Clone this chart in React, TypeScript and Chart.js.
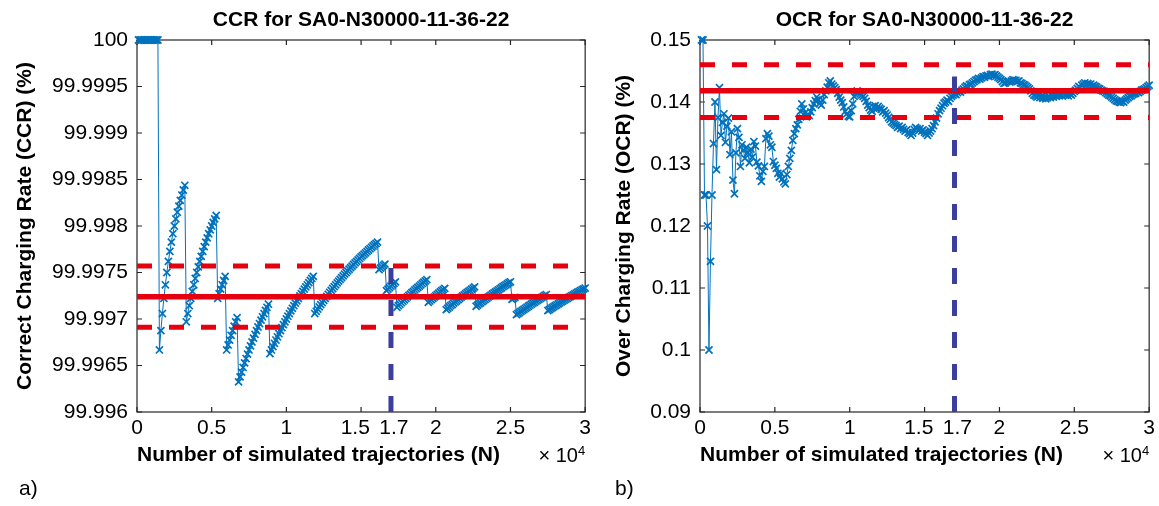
import React, { useEffect, useRef } from 'react';
import { Chart, registerables } from 'chart.js';

Chart.register(...registerables);

// Number of simulated trajectories (sampling points)
const N_VALUES = [
  100, 200, 300, 400, 500, 600, 700, 800, 900, 1000,
  1100, 1200, 1300, 1400, 1500, 1600, 1700, 1800, 1900, 2000,
  2100, 2200, 2300, 2400, 2500, 2600, 2700, 2800, 2900, 3000,
  3100, 3200, 3300, 3400, 3500, 3600, 3700, 3800, 3900, 4000,
  4100, 4200, 4300, 4400, 4500, 4600, 4700, 4800, 4900, 5000,
  5100, 5200, 5300, 5400, 5500, 5600, 5700, 5800, 5900, 6000,
  6100, 6200, 6300, 6400, 6500, 6600, 6700, 6800, 6900, 7000,
  7100, 7200, 7300, 7400, 7500, 7600, 7700, 7800, 7900, 8000,
  8100, 8200, 8300, 8400, 8500, 8600, 8700, 8800, 8900, 9000,
  9100, 9200, 9300, 9400, 9500, 9600, 9700, 9800, 9900, 10000,
  10100, 10200, 10300, 10400, 10500, 10600, 10700, 10800, 10900, 11000,
  11100, 11200, 11300, 11400, 11500, 11600, 11700, 11800, 11900, 12000,
  12100, 12200, 12300, 12400, 12500, 12600, 12700, 12800, 12900, 13000,
  13100, 13200, 13300, 13400, 13500, 13600, 13700, 13800, 13900, 14000,
  14100, 14200, 14300, 14400, 14500, 14600, 14700, 14800, 14900, 15000,
  15100, 15200, 15300, 15400, 15500, 15600, 15700, 15800, 15900, 16000,
  16100, 16200, 16300, 16400, 16500, 16600, 16700, 16800, 16900, 17000,
  17100, 17200, 17300, 17400, 17500, 17600, 17700, 17800, 17900, 18000,
  18100, 18200, 18300, 18400, 18500, 18600, 18700, 18800, 18900, 19000,
  19100, 19200, 19300, 19400, 19500, 19600, 19700, 19800, 19900, 20000,
  20100, 20200, 20300, 20400, 20500, 20600, 20700, 20800, 20900, 21000,
  21100, 21200, 21300, 21400, 21500, 21600, 21700, 21800, 21900, 22000,
  22100, 22200, 22300, 22400, 22500, 22600, 22700, 22800, 22900, 23000,
  23100, 23200, 23300, 23400, 23500, 23600, 23700, 23800, 23900, 24000,
  24100, 24200, 24300, 24400, 24500, 24600, 24700, 24800, 24900, 25000,
  25100, 25200, 25300, 25400, 25500, 25600, 25700, 25800, 25900, 26000,
  26100, 26200, 26300, 26400, 26500, 26600, 26700, 26800, 26900, 27000,
  27100, 27200, 27300, 27400, 27500, 27600, 27700, 27800, 27900, 28000,
  28100, 28200, 28300, 28400, 28500, 28600, 28700, 28800, 28900, 29000,
  29100, 29200, 29300, 29400, 29500, 29600, 29700, 29800, 29900, 30000,
];

// Correct Charging Rate (%)
const CCR_VALUES = [
  100, 100, 100, 100, 100, 100, 100, 100, 100, 100,
  100, 100, 100, 100, 99.996667, 99.996875, 99.997059, 99.997222, 99.997368, 99.9975,
  99.997619, 99.997727, 99.997826, 99.997917, 99.998, 99.998077, 99.998148, 99.998214, 99.998276, 99.998333,
  99.998387, 99.998438, 99.99697, 99.997059, 99.997143, 99.997222, 99.997297, 99.997368, 99.997436, 99.9975,
  99.997561, 99.997619, 99.997674, 99.997727, 99.997778, 99.997826, 99.997872, 99.997917, 99.997959, 99.998,
  99.998039, 99.998077, 99.998113, 99.997222, 99.997273, 99.997321, 99.997368, 99.997414, 99.997458, 99.996667,
  99.996721, 99.996774, 99.996825, 99.996875, 99.996923, 99.99697, 99.997015, 99.996324, 99.996377, 99.996429,
  99.996479, 99.996528, 99.996575, 99.996622, 99.996667, 99.996711, 99.996753, 99.996795, 99.996835, 99.996875,
  99.996914, 99.996951, 99.996988, 99.997024, 99.997059, 99.997093, 99.997126, 99.997159, 99.996629, 99.996667,
  99.996703, 99.996739, 99.996774, 99.996809, 99.996842, 99.996875, 99.996907, 99.996939, 99.99697, 99.997,
  99.99703, 99.997059, 99.997087, 99.997115, 99.997143, 99.99717, 99.997196, 99.997222, 99.997248, 99.997273,
  99.997297, 99.997321, 99.997345, 99.997368, 99.997391, 99.997414, 99.997436, 99.997458, 99.997059, 99.997083,
  99.997107, 99.997131, 99.997154, 99.997177, 99.9972, 99.997222, 99.997244, 99.997266, 99.997287, 99.997308,
  99.997328, 99.997348, 99.997368, 99.997388, 99.997407, 99.997426, 99.997445, 99.997464, 99.997482, 99.9975,
  99.997518, 99.997535, 99.997552, 99.997569, 99.997586, 99.997603, 99.997619, 99.997635, 99.997651, 99.997667,
  99.997682, 99.997697, 99.997712, 99.997727, 99.997742, 99.997756, 99.997771, 99.997785, 99.997799, 99.997812,
  99.997826, 99.997531, 99.997546, 99.997561, 99.997576, 99.99759, 99.997305, 99.997321, 99.997337, 99.997353,
  99.997368, 99.997384, 99.997399, 99.997126, 99.997143, 99.997159, 99.997175, 99.997191, 99.997207, 99.997222,
  99.997238, 99.997253, 99.997268, 99.997283, 99.997297, 99.997312, 99.997326, 99.99734, 99.997354, 99.997368,
  99.997382, 99.997396, 99.997409, 99.997423, 99.997179, 99.997194, 99.997208, 99.997222, 99.997236, 99.99725,
  99.997264, 99.997277, 99.997291, 99.997304, 99.997317, 99.99733, 99.997101, 99.997115, 99.997129, 99.997143,
  99.997156, 99.99717, 99.997183, 99.997196, 99.997209, 99.997222, 99.997235, 99.997248, 99.99726, 99.997273,
  99.997285, 99.997297, 99.997309, 99.997321, 99.997333, 99.997345, 99.997137, 99.997149, 99.997162, 99.997174,
  99.997186, 99.997198, 99.99721, 99.997222, 99.997234, 99.997246, 99.997257, 99.997269, 99.99728, 99.997292,
  99.997303, 99.997314, 99.997325, 99.997336, 99.997347, 99.997358, 99.997368, 99.997379, 99.99739, 99.9974,
  99.997211, 99.997222, 99.997233, 99.997047, 99.997059, 99.99707, 99.997082, 99.997093, 99.997104, 99.997115,
  99.997126, 99.997137, 99.997148, 99.997159, 99.99717, 99.99718, 99.997191, 99.997201, 99.997212, 99.997222,
  99.997232, 99.997243, 99.997253, 99.997263, 99.997091, 99.997101, 99.997112, 99.997122, 99.997133, 99.997143,
  99.997153, 99.997163, 99.997173, 99.997183, 99.997193, 99.997203, 99.997213, 99.997222, 99.997232, 99.997241,
  99.997251, 99.99726, 99.99727, 99.997279, 99.997288, 99.997297, 99.997306, 99.997315, 99.997324, 99.997333,
];

// Over Charging Rate (%)
const OCR_VALUES = [
  0.15, 0.15, 0.125, 0.125, 0.12, 0.1, 0.1143, 0.125, 0.1333, 0.14,
  0.1291, 0.1375, 0.1423, 0.1346, 0.1367, 0.1381, 0.1335, 0.1361, 0.1374, 0.1315,
  0.1352, 0.1274, 0.1252, 0.1318, 0.1357, 0.1343, 0.1296, 0.1331, 0.1322, 0.1309,
  0.1327, 0.1318, 0.1302, 0.1324, 0.1311, 0.1336, 0.1329, 0.1303, 0.1297, 0.1281,
  0.1272, 0.1288, 0.1296, 0.1341, 0.1349, 0.1345, 0.1331, 0.1327, 0.1304, 0.1298,
  0.1293, 0.1285, 0.1279, 0.1285, 0.1276, 0.1271, 0.1268, 0.1283, 0.1296, 0.1309,
  0.1322, 0.1338, 0.1349, 0.1357, 0.1363, 0.1372, 0.1385, 0.1397, 0.1389, 0.1382,
  0.1376, 0.138, 0.1378, 0.1384, 0.1391, 0.1397, 0.1402, 0.1408, 0.1404, 0.1398,
  0.1395, 0.1403, 0.1412, 0.1418, 0.1424, 0.1431, 0.1434, 0.1429, 0.1426, 0.1423,
  0.142, 0.1414, 0.1408, 0.1403, 0.1399, 0.1392, 0.1385, 0.1381, 0.1377, 0.1376,
  0.1386, 0.1397, 0.1409, 0.1416, 0.1418, 0.1415, 0.1413, 0.1411, 0.1409, 0.1406,
  0.1401, 0.1395, 0.1391, 0.1387, 0.1385, 0.1392, 0.1394, 0.1389, 0.1393, 0.139,
  0.1388, 0.1384, 0.1386, 0.1382, 0.1379, 0.1375, 0.1372, 0.1368, 0.1366, 0.1364,
  0.1362, 0.1359, 0.1361, 0.1357, 0.1359, 0.1356, 0.1353, 0.1355, 0.1351, 0.1349,
  0.1346, 0.135, 0.1356, 0.1359, 0.1357, 0.1354, 0.1357, 0.1353, 0.1355, 0.1351,
  0.1349, 0.1346, 0.135, 0.1353, 0.1357, 0.1362, 0.1368, 0.1374, 0.1381, 0.1386,
  0.139, 0.1394, 0.1398, 0.14, 0.1403, 0.1401, 0.1406, 0.1409, 0.1411, 0.1413,
  0.1412, 0.1415, 0.1417, 0.1416, 0.1419, 0.1421, 0.1424, 0.1426, 0.1425, 0.1428,
  0.1429, 0.1431, 0.1433, 0.1435, 0.1436, 0.1438, 0.1437, 0.1439, 0.1441, 0.144,
  0.1442, 0.1443, 0.1441, 0.1444, 0.1445, 0.1443, 0.1444, 0.1442, 0.144, 0.1438,
  0.1436, 0.1433, 0.143, 0.1431, 0.1433, 0.1434, 0.1432, 0.1434, 0.1436, 0.1435,
  0.1435, 0.1433, 0.1434, 0.1431, 0.143, 0.1428, 0.1427, 0.1425, 0.1423, 0.1421,
  0.1418, 0.1414, 0.1411, 0.141, 0.1408, 0.141, 0.1407, 0.1409, 0.1406, 0.1408,
  0.1405, 0.1407, 0.1409, 0.1407, 0.141, 0.1408, 0.1411, 0.1409, 0.1412, 0.141,
  0.1412, 0.141, 0.1413, 0.1411, 0.1412, 0.141, 0.1413, 0.1411, 0.1414, 0.1417,
  0.1419, 0.1422, 0.1425, 0.1423, 0.1427, 0.1429, 0.1431, 0.1428, 0.143, 0.1428,
  0.1429, 0.1426, 0.1427, 0.1425, 0.1424, 0.1422, 0.1421, 0.1419, 0.1418, 0.1417,
  0.1415, 0.1413, 0.1411, 0.141, 0.1408, 0.1406, 0.1404, 0.1402, 0.1401, 0.14,
  0.1399, 0.1401, 0.14, 0.1403, 0.1405, 0.1407, 0.1409, 0.141, 0.1412, 0.1413,
  0.1414, 0.1416, 0.1415, 0.1417, 0.1419, 0.142, 0.1421, 0.1423, 0.1425, 0.1427,
];

const X_TICKS = [0, 5000, 10000, 15000, 17000, 20000, 25000, 30000];
const X_TICK_LABELS = ['0', '0.5', '1', '1.5  ', ' 1.7', '2', '2.5', '3'];
const CCR_TICKS = [99.996, 99.9965, 99.997, 99.9975, 99.998, 99.9985, 99.999, 99.9995, 100];
const CCR_TICK_LABELS = ['99.996', '99.9965', '99.997', '99.9975', '99.998', '99.9985', '99.999', '99.9995', '100'];
const OCR_TICKS = [0.09, 0.1, 0.11, 0.12, 0.13, 0.14, 0.15];
const OCR_TICK_LABELS = ['0.09', '0.1', '0.11', '0.12', '0.13', '0.14', '0.15'];

const CCR_BAND = [99.99691, 99.99724, 99.99757]; // lower, mean, upper
const OCR_BAND = [0.1375, 0.1418, 0.146];
const N_MARK = 17000;
const CCR_MARK_RANGE = [99.996, 99.99755];
const OCR_MARK_RANGE = [0.09, 0.1441];

const FONT = '"Liberation Sans", Arial, Helvetica, sans-serif';
const BLUE = '#0072BD';
const RED = '#E6000F';
const MARK_BLUE = '#3b3f9c';
const AXIS = '#262626';

const boxPlugin = {
  id: 'matlabBox',
  beforeDatasetsDraw(chart: any) {
    const { ctx, chartArea, scales } = chart;
    const { left, right, top, bottom } = chartArea;
    const L = 5;
    ctx.save();
    ctx.strokeStyle = AXIS;
    ctx.lineWidth = 1.2;
    ctx.strokeRect(left, top, right - left, bottom - top);
    ctx.beginPath();
    scales.x.ticks.forEach((t: any) => {
      const px = scales.x.getPixelForValue(t.value);
      ctx.moveTo(px, bottom);
      ctx.lineTo(px, bottom - L);
      ctx.moveTo(px, top);
      ctx.lineTo(px, top + L);
    });
    scales.y.ticks.forEach((t: any) => {
      const py = scales.y.getPixelForValue(t.value);
      ctx.moveTo(left, py);
      ctx.lineTo(left + L, py);
      ctx.moveTo(right, py);
      ctx.lineTo(right - L, py);
    });
    ctx.stroke();
    ctx.restore();
  },
};

function textPlugin(letter: string, letterX: number) {
  return {
    id: 'extraText',
    afterDraw(chart: any) {
      const { ctx, chartArea } = chart;
      ctx.save();
      ctx.fillStyle = '#000';
      ctx.textBaseline = 'alphabetic';
      ctx.font = `13px ${FONT}`;
      const w4 = ctx.measureText('4').width;
      ctx.textAlign = 'right';
      ctx.fillText('4', chartArea.right, 455);
      ctx.font = `20px ${FONT}`;
      ctx.fillText('\u00d7 10', chartArea.right - w4, 462);
      ctx.font = `21px ${FONT}`;
      ctx.textAlign = 'left';
      ctx.fillText(letter, letterX, 495);
      ctx.restore();
    },
  };
}

function makeConfig(o: any) {
  const seriesData = N_VALUES.map((n, i) => ({ x: n, y: o.values[i] }));
  const hLine = (v: number) => [{ x: 0, y: v }, { x: 30000, y: v }];
  return {
    type: 'line',
    data: {
      datasets: [
        {
          label: 'N = 1.7e4',
          data: [{ x: N_MARK, y: o.markRange[0] }, { x: N_MARK, y: o.markRange[1] }],
          borderColor: MARK_BLUE,
          borderWidth: 5,
          borderDash: [16, 16],
          borderCapStyle: 'butt',
          pointRadius: 0,
          order: 0,
        },
        {
          label: 'upper',
          data: hLine(o.band[2]),
          borderColor: RED,
          borderWidth: 5,
          borderDash: [15, 17],
          borderCapStyle: 'butt',
          pointRadius: 0,
          order: 1,
        },
        {
          label: 'lower',
          data: hLine(o.band[0]),
          borderColor: RED,
          borderWidth: 5,
          borderDash: [15, 17],
          borderCapStyle: 'butt',
          pointRadius: 0,
          order: 1,
        },
        {
          label: 'mean',
          data: hLine(o.band[1]),
          borderColor: RED,
          borderWidth: 5.5,
          pointRadius: 0,
          order: 1,
        },
        {
          label: o.name,
          data: seriesData,
          borderColor: BLUE,
          borderWidth: 1,
          pointStyle: 'crossRot',
          pointRadius: 5,
          pointHoverRadius: 5,
          pointBorderWidth: 1.7,
          pointBorderColor: BLUE,
          pointBackgroundColor: BLUE,
          tension: 0,
          clip: false,
          order: 2,
        },
      ],
    },
    options: {
      responsive: false,
      animation: false,
      events: [],
      layout: { padding: { left: 0, right: o.padRight, top: 0, bottom: 0 } },
      plugins: {
        legend: { display: false },
        tooltip: { enabled: false },
        title: {
          display: true,
          text: o.title,
          color: '#000',
          fullSize: false,
          font: { family: FONT, size: 21, weight: 'bold', lineHeight: 1.2 },
          padding: { top: 7.4, bottom: 7.4 },
        },
      },
      scales: {
        x: {
          type: 'linear',
          min: 0,
          max: 30000,
          afterBuildTicks: (s: any) => {
            s.ticks = X_TICKS.map((v) => ({ value: v }));
          },
          afterFit: (s: any) => {
            s.height = 94;
          },
          grid: { display: false, drawTicks: false },
          border: { display: false },
          ticks: {
            autoSkip: false,
            maxRotation: 0,
            minRotation: 0,
            padding: 4,
            color: '#000',
            font: { family: FONT, size: 21 },
            callback: (_v: any, i: number) => X_TICK_LABELS[i],
          },
          title: {
            display: true,
            text: 'Number of simulated trajectories (N)',
            align: 'start',
            color: '#000',
            font: { family: FONT, size: 21, weight: 'bold', lineHeight: 1.2 },
            padding: { top: 0, bottom: 38.4 },
          },
        },
        y: {
          min: o.yMin,
          max: o.yMax,
          afterBuildTicks: (s: any) => {
            s.ticks = o.yTicks.map((v: number) => ({ value: v }));
          },
          afterFit: (s: any) => {
            s.width = o.yWidth;
          },
          grid: { display: false, drawTicks: false },
          border: { display: false },
          ticks: {
            autoSkip: false,
            padding: 9,
            color: '#000',
            font: { family: FONT, size: 21 },
            callback: (_v: any, i: number) => o.yTickLabels[i],
          },
          title: {
            display: true,
            text: o.yTitle,
            color: '#000',
            font: { family: FONT, size: 21, weight: 'bold', lineHeight: 1.2 },
            padding: { top: o.yTitlePad, bottom: 0 },
          },
        },
      },
    },
    plugins: [boxPlugin, textPlugin(o.letter, o.letterX)],
  };
}

export default function App() {
  const leftRef = useRef<HTMLCanvasElement>(null);
  const rightRef = useRef<HTMLCanvasElement>(null);

  useEffect(() => {
    const c1 = new Chart(
      leftRef.current as HTMLCanvasElement,
      makeConfig({
        name: 'CCR',
        title: 'CCR for SA0-N30000-11-36-22',
        yTitle: 'Correct Charging Rate (CCR) (%)',
        values: CCR_VALUES,
        band: CCR_BAND,
        markRange: CCR_MARK_RANGE,
        yMin: 99.996,
        yMax: 100,
        yTicks: CCR_TICKS,
        yTickLabels: CCR_TICK_LABELS,
        yWidth: 137,
        yTitlePad: 12.4,
        padRight: 7,
        letter: 'a)',
        letterX: 19,
      }) as any
    );
    const c2 = new Chart(
      rightRef.current as HTMLCanvasElement,
      makeConfig({
        name: 'OCR',
        title: 'OCR for SA0-N30000-11-36-22',
        yTitle: 'Over Charging Rate (OCR) (%)',
        values: OCR_VALUES,
        band: OCR_BAND,
        markRange: OCR_MARK_RANGE,
        yMin: 0.09,
        yMax: 0.15,
        yTicks: OCR_TICKS,
        yTickLabels: OCR_TICK_LABELS,
        yWidth: 105,
        yTitlePad: 16.4,
        padRight: 9,
        letter: 'b)',
        letterX: 20,
      }) as any
    );
    return () => {
      c1.destroy();
      c2.destroy();
    };
  }, []);

  return (
    <div style={{ position: 'absolute', left: 0, top: 0, width: 1159, height: 506, background: '#fff' }}>
      <canvas
        ref={leftRef}
        width={595}
        height={506}
        style={{ position: 'absolute', left: 0, top: 0, width: 595, height: 506 }}
      />
      <canvas
        ref={rightRef}
        width={564}
        height={506}
        style={{ position: 'absolute', left: 595, top: 0, width: 564, height: 506 }}
      />
    </div>
  );
}
